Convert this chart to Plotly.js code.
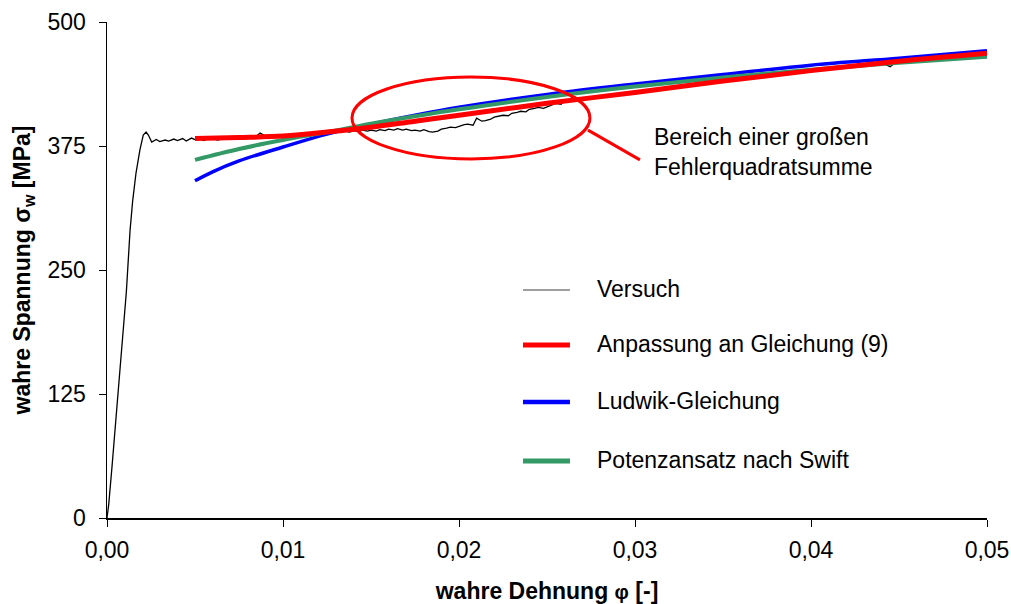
<!DOCTYPE html>
<html>
<head>
<meta charset="utf-8">
<script src="https://cdn.plot.ly/plotly-3.0.1.min.js"></script>
<style>html,body{margin:0;padding:0;background:#fff;}#chart{width:1011px;height:604px;}</style>
</head>
<body>
<div id="chart"></div>
<script>
// Versuch (experiment)
const versuchX = [0, 0.0001, 0.0003, 0.0005, 0.0007, 0.0009, 0.0011, 0.00131, 0.00146, 0.00165, 0.00187, 0.00206, 0.00222, 0.00235, 0.00254, 0.0028,
  0.003, 0.0033, 0.0035, 0.0038, 0.004, 0.0043, 0.0045, 0.0048, 0.005, 0.0053, 0.0055, 0.0058, 0.006, 0.0063, 0.0065, 0.0068, 0.007, 0.0073, 0.0075, 0.0078, 0.008, 0.0083, 0.0085, 0.0087, 0.009, 0.0093, 0.0095, 0.0098,
  0.01, 0.0103, 0.0105, 0.0108, 0.011, 0.0113, 0.0115, 0.0118, 0.012, 0.0123, 0.0125, 0.0128, 0.013, 0.0133, 0.0135, 0.0138, 0.014, 0.0143, 0.0145, 0.0148,
  0.015, 0.0153, 0.0155, 0.0158, 0.016, 0.0163, 0.0165, 0.0168, 0.017, 0.0173, 0.0175, 0.0178, 0.018, 0.0183, 0.0185, 0.0188, 0.019, 0.0193, 0.0195, 0.0198,
  0.02, 0.0203, 0.0205, 0.0208, 0.021, 0.0213, 0.0215, 0.0218, 0.022, 0.0223, 0.0225, 0.0228, 0.023, 0.0233, 0.0235, 0.0238, 0.024, 0.0243, 0.0245, 0.0248,
  0.025, 0.0253, 0.0255, 0.0258, 0.026, 0.0262, 0.0265, 0.0268, 0.027, 0.0275, 0.028, 0.0285, 0.029, 0.0295,
  0.03, 0.0305, 0.031, 0.0315, 0.032, 0.0325, 0.033, 0.0335, 0.034, 0.0345, 0.035, 0.0355, 0.036, 0.0365, 0.037, 0.0375, 0.038, 0.0385, 0.039, 0.0395,
  0.04, 0.0405, 0.041, 0.0415, 0.042, 0.0425, 0.043, 0.0435, 0.044, 0.0443, 0.0445, 0.0447, 0.045, 0.0455, 0.046, 0.0465, 0.047, 0.0475, 0.048, 0.0485, 0.049, 0.0495, 0.05];
const versuchY = [0, 14, 55, 98, 140, 184, 228, 290, 320, 348, 371, 386, 389, 386, 379, 381.5,
  379.5, 381, 380, 382, 380.5, 382.5, 380, 383, 381.5, 382, 380.5, 383, 382.5, 381, 382, 383.5, 382, 384, 382.5, 383.5, 384, 383, 385, 388, 385, 384, 385.5, 384,
  385.5, 384, 386, 385, 386.5, 388, 387, 388.5, 387.5, 388, 389, 388, 389.5, 388.5, 390, 389, 390.5, 389.5, 391, 390,
  391, 390, 391.5, 390.5, 392, 391, 392.5, 391, 392, 390.5, 391, 390, 391.5, 389.5, 389, 390, 392, 393, 394, 393.5,
  395, 396.5, 397, 396, 403, 400, 400.5, 402, 404, 405, 406, 405.5, 408, 409, 410, 409.5, 412, 413, 414, 413,
  414.5, 416, 418, 417, 421, 420.5, 425, 423, 423.5, 424.5, 425.5, 426.5, 427.5, 428.5,
  429, 430, 431.5, 432, 434, 434.5, 436.5, 437, 438.5, 439, 441, 441.5, 443, 443.5, 445, 446, 447.5, 448, 450, 450.5,
  451.5, 452, 453.5, 454, 455, 455.5, 457, 457.5, 459, 457, 455, 458, 460.5, 461, 462.5, 463, 464.5, 465, 466, 466.5, 467.5, 468, 468.5];

// Anpassung an Gleichung (9)
const anpassungX = [0.005, 0.0075, 0.01, 0.0125, 0.015, 0.0175, 0.02, 0.025, 0.03, 0.035, 0.04, 0.045, 0.05];
const anpassungY = [382.5, 383.5, 385, 389, 394, 400, 406, 418, 429, 440.5, 451, 460.5, 468.5];

// Ludwik-Gleichung
const ludwikX = [0.005, 0.006, 0.0075, 0.01, 0.0125, 0.015, 0.0175, 0.02, 0.025, 0.03, 0.035, 0.04, 0.045, 0.05];
const ludwikY = [340, 349, 360, 374, 387, 397, 406, 414, 427, 437.5, 447, 456.5, 463.5, 471];

// Potenzansatz nach Swift
const swiftX = [0.005, 0.0075, 0.01, 0.0125, 0.015, 0.0175, 0.02, 0.025, 0.03, 0.035, 0.04, 0.045, 0.05];
const swiftY = [361, 372, 381, 389, 397.5, 405, 412, 424.5, 435, 444, 452, 459, 465];

const xTickVals = [0, 0.01, 0.02, 0.03, 0.04, 0.05];
const xTickText = ["0,00", "0,01", "0,02", "0,03", "0,04", "0,05"];
const yTickVals = [0, 125, 250, 375, 500];
const yTickText = ["0", "125", "250", "375", "500"];

const legendNames = ["Versuch", "Anpassung an Gleichung (9)", "Ludwik-Gleichung", "Potenzansatz nach Swift"];
const legendColors = ["#404040", "#FF0000", "#0000FF", "#339966"];
const legendWidths = [1.2, 5, 4.5, 5];
const legendRowsY = [0.4597, 0.3488, 0.2339, 0.1149];

const FONT = "Liberation Sans, Arial, sans-serif";
const FS = 23;

const traces = [
  {x: versuchX, y: versuchY, mode: "lines", line: {color: "#000000", width: 1.3}, name: "Versuch"},
  {x: ludwikX, y: ludwikY, mode: "lines", line: {color: "#0000FF", width: 3.5, shape: "spline"}, name: "Ludwik-Gleichung"},
  {x: swiftX, y: swiftY, mode: "lines", line: {color: "#339966", width: 4, shape: "spline"}, name: "Potenzansatz nach Swift"},
  {x: anpassungX, y: anpassungY, mode: "lines", line: {color: "#FF0000", width: 5, shape: "spline"}, name: "Anpassung an Gleichung (9)"}
];

const shapes = [
  {type: "circle", xref: "x", yref: "y", x0: 0.01392, x1: 0.02744, y0: 362, y1: 444.6, line: {color: "#FF0000", width: 3}},
  {type: "line", xref: "x", yref: "y", x0: 0.02733, y0: 391, x1: 0.03028, y1: 361, line: {color: "#FF0000", width: 3}}
];
const annotations = [
  {xref: "paper", yref: "paper", x: (652 - 107) / 880, y: (518 - 152.5) / 496, xanchor: "left", yanchor: "middle", showarrow: false, align: "left",
   text: "Bereich einer großen<br>Fehlerquadratsumme", font: {family: FONT, size: FS, color: "#000"}}
];
legendNames.forEach((n, i) => {
  shapes.push({type: "line", xref: "paper", yref: "paper", x0: 0.4727, x1: 0.5261, y0: legendRowsY[i], y1: legendRowsY[i],
    line: {color: legendColors[i], width: legendWidths[i]}});
  annotations.push({xref: "paper", yref: "paper", x: 0.5545, y: legendRowsY[i] + 0.002, xanchor: "left", yanchor: "middle", showarrow: false,
    text: n, font: {family: FONT, size: FS, color: "#000"}});
});

const layout = {
  width: 1011, height: 604,
  margin: {l: 107, r: 24, t: 22, b: 86},
  paper_bgcolor: "#fff", plot_bgcolor: "#fff",
  showlegend: false,
  font: {family: FONT, size: FS, color: "#000"},
  xaxis: {
    range: [0, 0.05], tickvals: xTickVals, ticktext: xTickText,
    showgrid: false, zeroline: false, showline: true, linecolor: "#000", linewidth: 1.5,
    ticks: "outside", ticklen: 7, tickcolor: "#000", tickwidth: 1,
    ticklabelstandoff: 4,
    tickfont: {family: FONT, size: FS, color: "#000"},
    title: {text: "<b>wahre Dehnung </b><span style=\"font-size:20px\"><b>φ</b></span><b> [-]</b>", font: {family: FONT, size: FS, color: "#000"}, standoff: 22}
  },
  yaxis: {
    range: [0, 500], tickvals: yTickVals, ticktext: yTickText,
    showgrid: false, zeroline: false, showline: true, linecolor: "#000", linewidth: 1.5,
    ticks: "outside", ticklen: 7, tickcolor: "#000", tickwidth: 1,
    ticklabelstandoff: 8,
    tickfont: {family: FONT, size: FS, color: "#000"},
    title: {text: "<b>wahre Spannung σ<sub>w</sub> [MPa]</b>", font: {family: FONT, size: FS, color: "#000"}, standoff: 10}
  },
  shapes: shapes,
  annotations: annotations
};

Plotly.newPlot("chart", traces, layout, {displayModeBar: false, staticPlot: true});
</script>
</body>
</html>
